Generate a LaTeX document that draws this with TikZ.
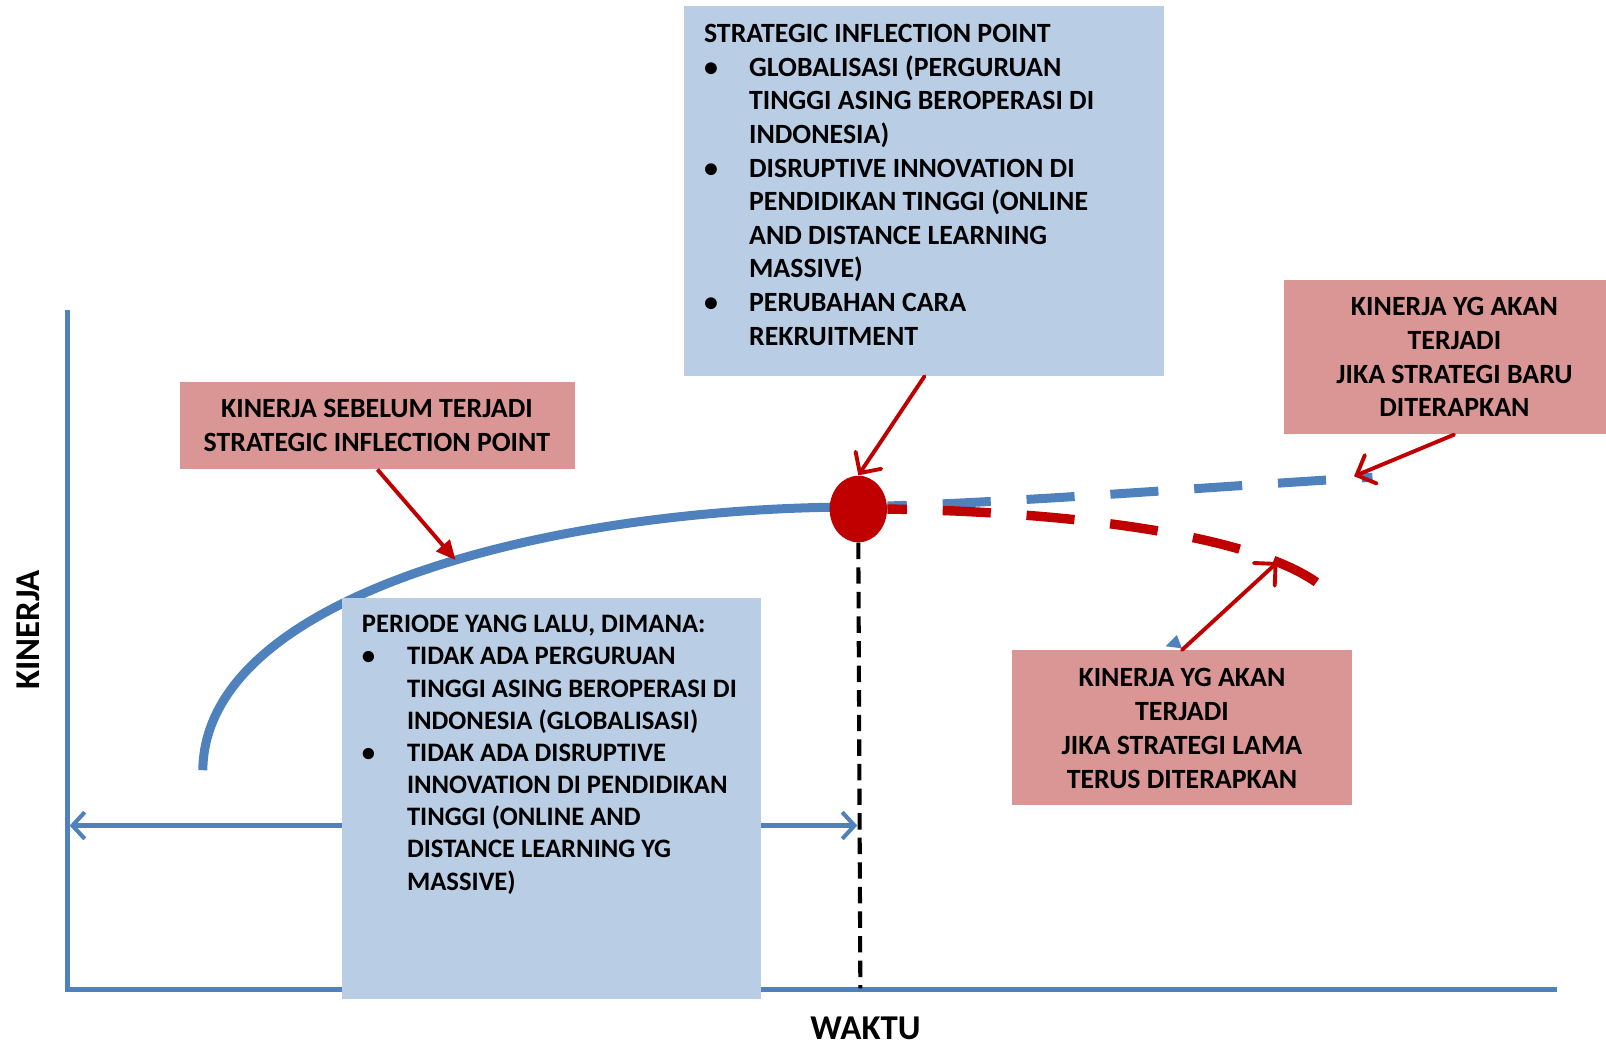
\documentclass[tikz,border=0pt]{standalone}
\usepackage{fontspec}
\setmainfont{Carlito}
\usetikzlibrary{arrows.meta,fit,shapes.geometric}
\definecolor{axblue}{HTML}{4F81BD}
\definecolor{lblue}{HTML}{B9CDE5}
\definecolor{lred}{HTML}{D99694}
\definecolor{dred}{HTML}{C00000}
\newcommand\myitem[1]{\makebox[22pt][l]{\textbullet}#1}
\newcommand\mycont[1]{\hspace*{22pt}#1}
\begin{document}
\begin{tikzpicture}[x=0.5pt,y=-0.5pt,
  box/.style={inner sep=0pt, draw=none},
  bluebox/.style={box, fill=lblue},
  redbox/.style={box, fill=lred},
  txt/.style={inner sep=0pt, align=left, font=\fontsize{13.6}{16.4}\selectfont\bfseries},
  txtb/.style={inner sep=0pt, align=left, font=\fontsize{13}{15.7}\selectfont\bfseries},
  ctxt/.style={inner sep=0pt, align=center, font=\fontsize{13.6}{16.5}\selectfont\bfseries},
  axlab/.style={inner sep=0pt, font=\fontsize{17}{20}\selectfont\bfseries},
  axisline/.style={axblue, line width=2.8pt},
  redarrow/.style={dred, line width=1.9pt, line cap=round, -{Straight Barb[length=7.5pt,width=15pt,line cap=round]}},
  dashline/.style={line width=4.4pt, dash pattern=on 23.5pt off 17.5pt, dash phase=14pt}
]
\useasboundingbox (0,0) rectangle (1568,1020);

% axes
\coordinate (ytop) at (66,303);
\coordinate (O) at (66,966);
\coordinate (xend) at (1520,966);
\draw[axisline] (ytop) -- (O) -- (xend);

% performance curve
\draw[axblue, line width=4.4pt] (198,752) .. controls (200,580) and (540,495) .. (838,495) coordinate[pos=0.55] (cpt);

% inflection point dot
\node[ellipse, fill=dred, minimum width=28pt, minimum height=32.5pt, inner sep=0pt] (dot) at (838,497) {};

% future lines
\draw[axblue, dashline] ([yshift=1.5pt]dot.east) .. controls (1000,490) and (1200,474) .. (1340,466);
\draw[dred, dashline, line width=4.6pt] (dot.east) .. controls (1060,500) and (1230,525) .. (1290,572) coordinate[pos=0.82] (rpt);
\coordinate (xd) at (840,965);
\draw[black, line width=2pt, dash pattern=on 8pt off 4pt] (dot.south) -- (xd);

% period arrow
\coordinate (pl) at (68,806);
\coordinate (pr) at (837,806);
\draw[axblue, line width=2pt, {Straight Barb[length=6pt,width=13pt]}-{Straight Barb[length=6pt,width=13pt]}] (pl) -- (pr);

% boxes
\node[bluebox, fit={(668,6)(1136,367)}] (sip) {};
\node[bluebox, fit={(334,584)(743,975)}] (past) {};
\node[redbox, fit={(176,373)(561,458)}] (rb1) {};
\node[redbox, fit={(1254,273)(1568,424)}] (rb2) {};
\node[redbox, fit={(988,635)(1320,786)}] (rb3) {};

% texts (anchor base = baseline of the last line)
\node[txt, anchor=base west] (sipt) at (687,337) {STRATEGIC INFLECTION POINT\\
\myitem{GLOBALISASI (PERGURUAN}\\
\mycont{TINGGI ASING BEROPERASI DI}\\
\mycont{INDONESIA)}\\
\myitem{DISRUPTIVE INNOVATION DI}\\
\mycont{PENDIDIKAN TINGGI (ONLINE}\\
\mycont{AND DISTANCE LEARNING}\\
\mycont{MASSIVE)}\\
\myitem{PERUBAHAN CARA}\\
\mycont{REKRUITMENT}};

\node[txtb, anchor=base west] (pastt) at (353,869) {PERIODE YANG LALU, DIMANA:\\
\myitem{TIDAK ADA PERGURUAN}\\
\mycont{TINGGI ASING BEROPERASI DI}\\
\mycont{INDONESIA (GLOBALISASI)}\\
\myitem{TIDAK ADA DISRUPTIVE}\\
\mycont{INNOVATION DI PENDIDIKAN}\\
\mycont{TINGGI (ONLINE AND}\\
\mycont{DISTANCE LEARNING YG}\\
\mycont{MASSIVE)}};

\node[ctxt, anchor=base] (rb1t) at (368,440.5) {KINERJA SEBELUM TERJADI\\STRATEGIC INFLECTION POINT};
\node[ctxt, anchor=base] (rb2t) at (1420,407) {KINERJA YG AKAN\\TERJADI\\JIKA STRATEGI BARU\\DITERAPKAN};
\node[ctxt, anchor=base] (rb3t) at (1154,769.5) {KINERJA YG AKAN\\TERJADI\\JIKA STRATEGI LAMA\\TERUS DITERAPKAN};

\node[axlab, rotate=90] (ylab) at (28,615) {KINERJA};
\node[axlab] (xlab) at (845,1004) {WAKTU};

% pointer arrows
\coordinate (btip) at (1322,465);
\draw[redarrow] ([xshift=117.5pt]sip.south west) -- (dot.north);
\draw[dred, line width=1.9pt, -{Triangle[length=9.5pt,width=8.5pt]}] (rb1.south) -- (cpt);
\draw[redarrow] ([xshift=83pt]rb2.south west) -- (btip);
\draw[redarrow] (rb3.north) -- (rpt);

% small blue marker
\fill[axblue] (1138,631) -- (1149,620) -- (1154,633) -- cycle;
\end{tikzpicture}
\end{document}
